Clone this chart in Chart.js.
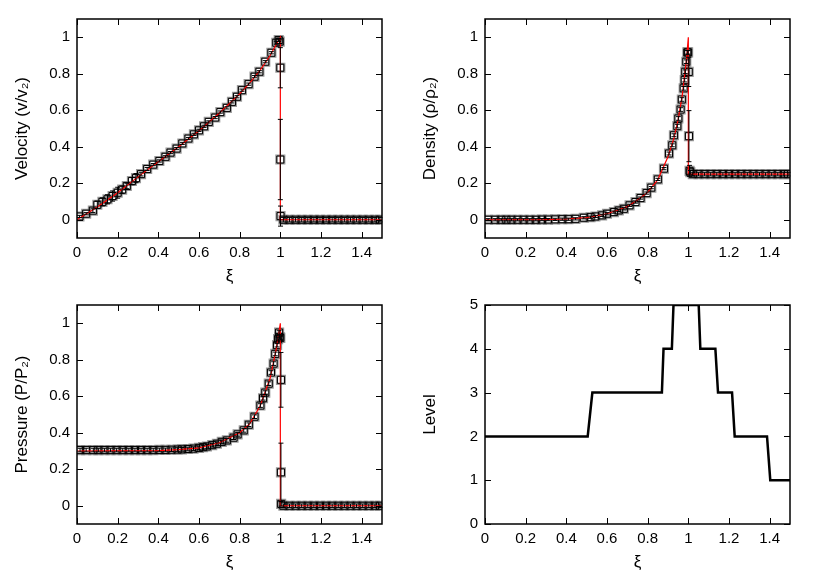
<!DOCTYPE html>
<html>
<head>
<meta charset="utf-8">
<script src="https://cdn.jsdelivr.net/npm/chart.js@4.4.1/dist/chart.umd.min.js"></script>
<style>
  html, body { margin: 0; padding: 0; background: #fff; overflow: hidden; }
  #wrap { position: relative; width: 817px; height: 572px; overflow: hidden; }
  canvas { position: absolute; }
</style>
</head>
<body>
<div id="wrap">
  <canvas id="cVel" width="408" height="290" style="left:0px;top:0px"></canvas>
  <canvas id="cDen" width="408" height="290" style="left:408px;top:0px"></canvas>
  <canvas id="cPre" width="408" height="290" style="left:0px;top:286px"></canvas>
  <canvas id="cLev" width="408" height="290" style="left:408px;top:286px"></canvas>
</div>
<script>
// ---------------- DATA ----------------
const xTicks = [0, 0.2, 0.4, 0.6, 0.8, 1, 1.2, 1.4];
const yTicksFrac = [0, 0.2, 0.4, 0.6, 0.8, 1];
const yTicksLevel = [0, 1, 2, 3, 4, 5];

// Velocity (simulation points)
const velXi  = [0.012,0.045,0.078,0.1,0.125,0.15,0.175,0.2,0.222,0.245,0.27,0.29,0.315,0.345,0.375,0.405,0.435,0.46,0.49,0.518,0.548,0.575,0.6,0.625,0.648,0.68,0.705,0.737,0.762,0.787,0.811,0.844,0.873,0.897,0.926,0.956,0.98,0.992,0.997,1.0,1.0,1.001,1.015,1.045,1.075,1.105,1.135,1.165,1.195,1.225,1.255,1.285,1.315,1.345,1.375,1.405,1.435,1.465,1.49];
const velVal = [0.018,0.033,0.05,0.082,0.098,0.112,0.13,0.148,0.165,0.185,0.212,0.228,0.25,0.278,0.302,0.322,0.345,0.368,0.39,0.418,0.445,0.468,0.49,0.512,0.536,0.56,0.59,0.613,0.646,0.674,0.71,0.743,0.784,0.811,0.866,0.915,0.97,0.985,0.976,0.833,0.33,0.02,0,0,0,0,0,0,0,0,0,0,0,0,0,0,0,0,0];
const velErr = [0.006,0.006,0.01,0.02,0.022,0.025,0.028,0.03,0.02,0.015,0.02,0.025,0.01,0.008,0.006,0.006,0.006,0.006,0.006,0.006,0.006,0.006,0.006,0.006,0.006,0.006,0.006,0.006,0.006,0.006,0.006,0.006,0.006,0.006,0.006,0.006,0.008,0.008,0.01,0.11,0.22,0.055,0.012,0.012,0.012,0.012,0.012,0.012,0.012,0.012,0.012,0.012,0.012,0.012,0.012,0.012,0.012,0.012,0.012];
// Velocity (analytic curve)
const velCurveXi  = [0,0.1,0.2,0.3,0.4,0.5,0.6,0.7,0.8,0.85,0.9,0.95,0.98,1.0,1.0,1.5];
const velCurveVal = [0,0.07,0.148,0.235,0.318,0.4,0.488,0.585,0.69,0.75,0.818,0.9,0.96,1.0,0,0];

// Density
const denXi  = [0.015,0.05,0.08,0.105,0.13,0.16,0.19,0.22,0.25,0.28,0.31,0.345,0.38,0.41,0.445,0.486,0.519,0.543,0.576,0.6,0.634,0.658,0.683,0.711,0.74,0.765,0.795,0.818,0.85,0.88,0.905,0.921,0.929,0.946,0.951,0.962,0.968,0.977,0.982,0.985,0.99,0.995,0.999,1.002,1.003,1.006,1.01,1.022,1.05,1.08,1.11,1.14,1.17,1.2,1.23,1.26,1.29,1.32,1.35,1.38,1.41,1.44,1.47,1.49];
const denVal = [0,0,0,0,0,0,0,0,0,0.001,0.001,0.002,0.003,0.003,0.005,0.011,0.014,0.018,0.024,0.033,0.042,0.051,0.06,0.079,0.097,0.119,0.146,0.176,0.221,0.28,0.363,0.408,0.463,0.513,0.555,0.604,0.659,0.72,0.765,0.811,0.866,0.917,0.917,0.81,0.458,0.268,0.26,0.25,0.25,0.25,0.25,0.25,0.25,0.25,0.25,0.25,0.25,0.25,0.25,0.25,0.25,0.25,0.25,0.25];
const denErr = [0.006,0.006,0.006,0.006,0.006,0.006,0.006,0.006,0.006,0.006,0.006,0.006,0.006,0.006,0.006,0.006,0.006,0.006,0.006,0.006,0.006,0.006,0.006,0.006,0.006,0.006,0.006,0.006,0.006,0.006,0.008,0.008,0.008,0.01,0.01,0.01,0.01,0.01,0.01,0.01,0.01,0.01,0.01,0.08,0.14,0.03,0.01,0.01,0.01,0.01,0.01,0.01,0.01,0.01,0.01,0.01,0.01,0.01,0.01,0.01,0.01,0.01,0.01,0.01];
const denCurveXi  = [0,0.3,0.4,0.5,0.6,0.7,0.75,0.8,0.85,0.9,0.93,0.95,0.97,0.99,1.0,1.0,1.5];
const denCurveVal = [0,0.001,0.004,0.012,0.033,0.072,0.108,0.15,0.22,0.345,0.45,0.55,0.68,0.87,1.0,0.25,0.25];

// Pressure
const preXi  = [0.015,0.045,0.08,0.105,0.135,0.165,0.195,0.225,0.255,0.285,0.315,0.345,0.375,0.405,0.435,0.465,0.495,0.516,0.545,0.573,0.6,0.62,0.639,0.665,0.688,0.712,0.737,0.77,0.79,0.82,0.845,0.873,0.902,0.915,0.926,0.943,0.954,0.967,0.975,0.984,0.989,0.994,0.996,1.0,1.003,1.003,1.004,1.015,1.045,1.075,1.105,1.135,1.165,1.195,1.225,1.255,1.285,1.315,1.345,1.375,1.405,1.435,1.465,1.49];
const preVal = [0.305,0.305,0.305,0.305,0.305,0.305,0.305,0.305,0.305,0.305,0.305,0.305,0.305,0.306,0.306,0.307,0.308,0.309,0.311,0.313,0.317,0.321,0.325,0.332,0.34,0.35,0.358,0.373,0.391,0.413,0.444,0.488,0.549,0.589,0.62,0.669,0.73,0.779,0.832,0.88,0.913,0.949,0.924,0.92,0.69,0.183,0.01,0,0,0,0,0,0,0,0,0,0,0,0,0,0,0,0,0];
const preErr = [0.01,0.01,0.01,0.01,0.01,0.01,0.01,0.01,0.01,0.01,0.01,0.01,0.01,0.01,0.01,0.01,0.01,0.01,0.01,0.01,0.01,0.01,0.01,0.01,0.01,0.01,0.01,0.01,0.01,0.01,0.01,0.01,0.01,0.01,0.01,0.01,0.01,0.01,0.01,0.01,0.01,0.01,0.01,0.01,0.15,0.16,0.012,0.01,0.01,0.01,0.01,0.01,0.01,0.01,0.01,0.01,0.01,0.01,0.01,0.01,0.01,0.01,0.01,0.01];
const preCurveXi  = [0,0.4,0.5,0.6,0.7,0.8,0.85,0.9,0.95,0.98,1.0,1.0,1.5];
const preCurveVal = [0.3,0.302,0.307,0.317,0.345,0.4,0.45,0.545,0.7,0.86,1.0,0,0];

// Refinement level
const levXi  = [0,0.505,0.528,0.87,0.878,0.919,0.927,1.051,1.059,1.133,1.146,1.215,1.228,1.387,1.403,1.5];
const levVal = [2,2,3,3,4,4,5,5,4,4,3,3,2,2,1,1];

// ---------------- HELPERS ----------------
const FONT = "'Liberation Sans', Arial, Helvetica, sans-serif";
const pts = (xs, ys) => xs.map((x, i) => ({x: x, y: ys[i]}));
const fmt = v => String(+Number(v).toFixed(2));

const framePlugin = {
  id: 'frame',
  afterDraw(chart) {
    const {ctx, chartArea: a, scales} = chart;
    const x = scales.x, y = scales.y;
    const L = 6;
    ctx.save();
    ctx.strokeStyle = '#000';
    ctx.lineWidth = 1;
    ctx.beginPath();
    x.ticks.forEach(t => {
      const p = Math.round(x.getPixelForValue(t.value)) + 0.5;
      ctx.moveTo(p, a.bottom); ctx.lineTo(p, a.bottom - L);
      ctx.moveTo(p, a.top); ctx.lineTo(p, a.top + L);
    });
    y.ticks.forEach(t => {
      const p = Math.round(y.getPixelForValue(t.value)) + 0.5;
      ctx.moveTo(a.left, p); ctx.lineTo(a.left + L, p);
      ctx.moveTo(a.right, p); ctx.lineTo(a.right - L, p);
    });
    ctx.stroke();
    ctx.lineWidth = 1.5;
    ctx.strokeRect(a.left, a.top, a.right - a.left, a.bottom - a.top);
    ctx.restore();
  }
};

const errPlugin = {
  id: 'errbars',
  afterDatasetsDraw(chart) {
    const {ctx, scales} = chart;
    const y = scales.y;
    chart.data.datasets.forEach((ds, di) => {
      if (!ds.errors) return;
      const meta = chart.getDatasetMeta(di);
      ctx.save();
      ctx.strokeStyle = '#000';
      ctx.lineWidth = 1;
      ctx.beginPath();
      meta.data.forEach((el, i) => {
        const v = ds.data[i].y, e = ds.errors[i];
        const y1 = y.getPixelForValue(v + e), y2 = y.getPixelForValue(v - e);
        const px = el.x;
        ctx.moveTo(px, y1); ctx.lineTo(px, y2);
        ctx.moveTo(px - 2.5, y1); ctx.lineTo(px + 2.5, y1);
        ctx.moveTo(px - 2.5, y2); ctx.lineTo(px + 2.5, y2);
      });
      ctx.stroke();
      ctx.restore();
    });
  }
};

function makeChart(id, datasets, yMin, yMax, yStep, yTitle, yTicks) {
  return new Chart(document.getElementById(id), {
    type: 'scatter',
    data: { datasets: datasets },
    options: {
      responsive: false,
      animation: false,
      devicePixelRatio: 1,
      layout: { padding: { left: 0, right: 26, top: 19, bottom: 0 } },
      plugins: { legend: { display: false }, tooltip: { enabled: false } },
      scales: {
        x: {
          type: 'linear', min: 0, max: 1.5,
          afterBuildTicks: s => { s.ticks = xTicks.map(v => ({value: v})); },
          ticks: { font: { family: FONT, size: 15 }, color: '#000', padding: 6, maxRotation: 0, autoSkip: false, callback: fmt },
          grid: { display: false, drawTicks: false },
          border: { display: false },
          title: { display: true, text: 'ξ', font: { family: FONT, size: 17 }, color: '#000', padding: { top: 0, bottom: 3 } },
          afterFit: s => { s.height = 52; }
        },
        y: {
          type: 'linear', min: yMin, max: yMax,
          afterBuildTicks: s => { s.ticks = yTicks.map(v => ({value: v})); },
          ticks: { font: { family: FONT, size: 15 }, color: '#000', padding: 7, autoSkip: false, callback: fmt },
          grid: { display: false, drawTicks: false },
          border: { display: false },
          title: { display: true, text: yTitle, font: { family: FONT, size: 17 }, color: '#000', padding: { top: 12, bottom: 0 } },
          afterFit: s => { s.width = 77; }
        }
      }
    },
    plugins: [framePlugin, errPlugin]
  });
}

function physDatasets(xi, val, err, cxi, cval) {
  return [
    { label: 'analytic', data: pts(cxi, cval), showLine: true, borderColor: '#ff0000', borderWidth: 1.2, pointRadius: 0, fill: false, order: 0 },
    { label: 'sim', data: pts(xi, val), errors: err, pointStyle: 'rect', pointRadius: 5, borderColor: '#000', borderWidth: 1, backgroundColor: 'rgba(0,0,0,0)', order: 1 },
    { label: 'simhalo', data: pts(xi, val), pointStyle: 'rect', pointRadius: 5.6, borderColor: 'rgba(120,120,120,0.75)', borderWidth: 2.2, backgroundColor: 'rgba(0,0,0,0)', order: 2 }
  ];
}

makeChart('cVel', physDatasets(velXi, velVal, velErr, velCurveXi, velCurveVal), -0.1, 1.1, 0.2, 'Velocity (v/v\u2082)', yTicksFrac);
makeChart('cDen', physDatasets(denXi, denVal, denErr, denCurveXi, denCurveVal), -0.1, 1.1, 0.2, 'Density (\u03c1/\u03c1\u2082)', yTicksFrac);
makeChart('cPre', physDatasets(preXi, preVal, preErr, preCurveXi, preCurveVal), -0.1, 1.1, 0.2, 'Pressure (P/P\u2082)', yTicksFrac);
makeChart('cLev', [
  { label: 'level', data: pts(levXi, levVal), showLine: true, borderColor: '#000', borderWidth: 2.5, pointRadius: 0, fill: false }
], 0, 5, 1, 'Level', yTicksLevel);
</script>
</body>
</html>
